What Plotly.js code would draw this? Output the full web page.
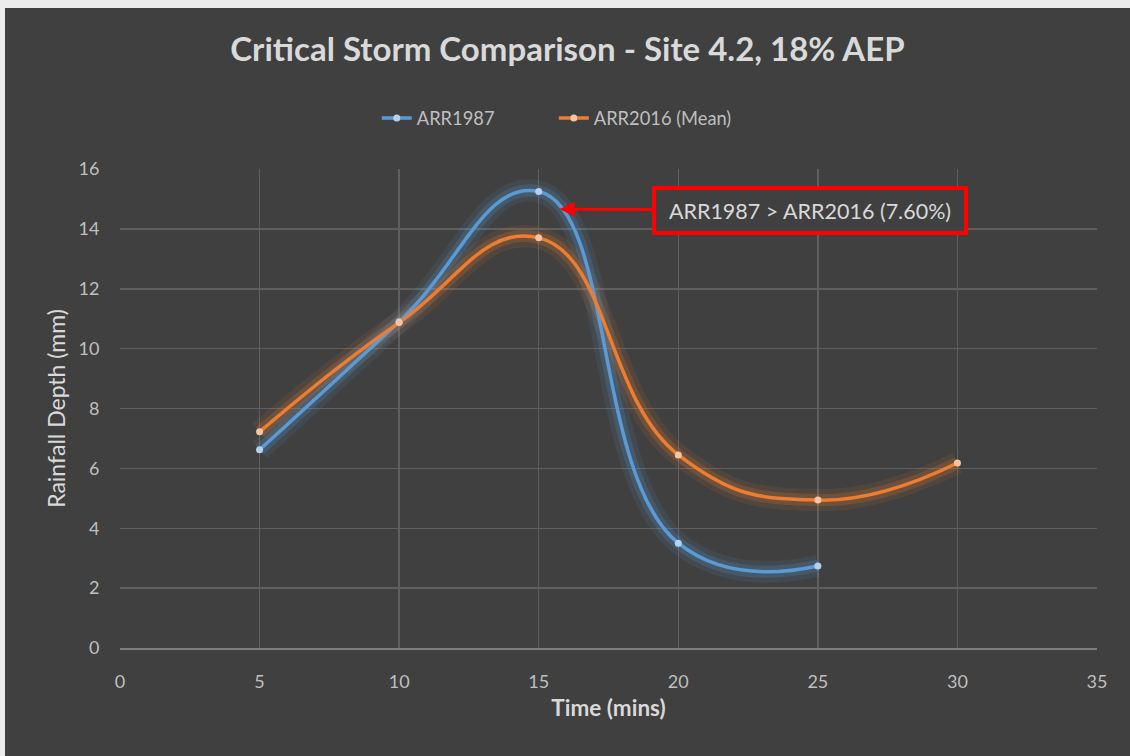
<!DOCTYPE html>
<html><head><meta charset="utf-8">
<script src="https://cdn.plot.ly/plotly-3.0.1.min.js"></script>
<style>
html,body{margin:0;padding:0;background:#ececec;}
#chart{position:absolute;left:5px;top:8px;width:1125px;height:748px;}
</style></head>
<body><div id="chart"></div>
<script>
const timeMins = [5, 10, 15, 20, 25, 30];
const arr1987 = [6.62, 10.9, 15.25, 3.5, 2.74, null];
const arr2016Mean = [7.22, 10.87, 13.7, 6.45, 4.94, 6.18];
const seriesNames = ['ARR1987', 'ARR2016 (Mean)'];
const annotationText = 'ARR1987 > ARR2016 (7.60%)';

const blue = '#5b9bd5', orange = '#ed7d31';
const FONT = 'Lato, "Open Sans", sans-serif';
const SM = 1.3;

function glow(y, color, w, op) {
  return {x: timeMins, y: y, mode: 'lines', line: {color: color, width: w, shape: 'spline', smoothing: SM},
    opacity: op, showlegend: false, hoverinfo: 'skip', connectgaps: false};
}
const traces = [
  glow(arr2016Mean, orange, 22, 0.1), glow(arr2016Mean, orange, 12, 0.2),
  glow(arr1987, blue, 22, 0.1), glow(arr1987, blue, 12, 0.2),
  {x: timeMins, y: arr1987, name: seriesNames[0], mode: 'lines+markers',
   line: {color: blue, width: 3.5, shape: 'spline', smoothing: SM},
   marker: {color: '#b4d2ee', size: 7}},
  {x: timeMins, y: arr2016Mean, name: seriesNames[1], mode: 'lines+markers',
   line: {color: orange, width: 3.5, shape: 'spline', smoothing: SM},
   marker: {color: '#f8c5a2', size: 7}}
];

const layout = {
  width: 1125, height: 748,
  paper_bgcolor: '#404040', plot_bgcolor: '#404040',
  margin: {l: 115, r: 33, t: 161, b: 108},
  font: {family: FONT, color: '#bfbfbf', size: 17},
  title: {text: '<b>Critical Storm Comparison - Site 4.2, 18% AEP</b>', x: 0.5, xanchor: 'center',
          y: 0.944, yref: 'container', yanchor: 'middle', font: {size: 33, color: '#d9d9d9', family: FONT}},
  showlegend: true,
  legend: {orientation: 'h', x: 0.444, xanchor: 'center', y: 1.106, yanchor: 'middle',
           entrywidth: 132, entrywidthmode: 'pixels',
           font: {size: 18.3, color: '#bfbfbf'}, bgcolor: 'rgba(0,0,0,0)', traceorder: 'normal'},
  xaxis: {range: [0, 35], dtick: 5, tick0: 0, showgrid: true, gridcolor: '#5f5f5f', gridwidth: 1.5,
          zeroline: false, showline: true, linecolor: '#7f7f7f', linewidth: 2, mirror: false,
          ticks: 'outside', ticklen: 16, tickcolor: 'rgba(0,0,0,0)',
          tickfont: {size: 18, color: '#bfbfbf'},
          title: {text: '<b>Time (mins)</b>', font: {size: 22.5, color: '#d9d9d9'}, standoff: 10}},
  yaxis: {range: [0, 16], dtick: 2, showgrid: true, gridcolor: '#5f5f5f', gridwidth: 1.5,
          zeroline: false, showline: false,
          ticks: 'outside', ticklen: 16, tickcolor: 'rgba(0,0,0,0)',
          tickfont: {size: 18, color: '#bfbfbf'},
          title: {text: 'Rainfall Depth (mm)', font: {size: 23, color: '#d9d9d9'}, standoff: 6}},
  annotations: [{
    x: 15.75, y: 14.66, xref: 'x', yref: 'y',
    ax: 24.72, ay: 14.62, axref: 'x', ayref: 'y',
    text: annotationText, showarrow: true, arrowhead: 2, arrowsize: 1, arrowwidth: 3, arrowcolor: '#ff0000',
    font: {size: 21.5, color: '#d9d9d9', family: FONT},
    bordercolor: '#ff0000', borderwidth: 4, borderpad: 4, bgcolor: '#404040',
    width: 300, height: 33, align: 'center'
  }]
};
Plotly.newPlot('chart', traces, layout, {displayModeBar: false, staticPlot: true});
</script></body></html>
